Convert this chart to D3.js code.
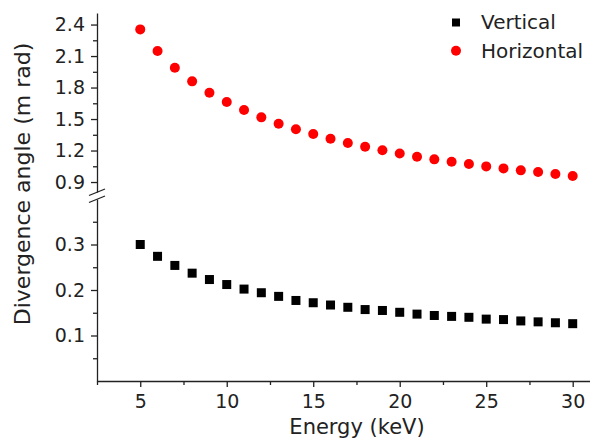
<!DOCTYPE html>
<html>
<head>
<meta charset="utf-8">
<script src="https://cdn.jsdelivr.net/npm/d3@7"></script>
<style>
  body { margin: 0; background: #fff; }
  svg text { font-family: "DejaVu Sans", sans-serif; fill: #222; }
  .axis path, .axis line { stroke: #222; stroke-width: 1.3; }
</style>
</head>
<body>
<div id="chart"></div>
<script>
// energies (keV)
var energy = [5,6,7,8,9,10,11,12,13,14,15,16,17,18,19,20,21,22,23,24,25,26,27,28,29,30];
// divergence angle, m rad
var horizontal = [2.354,2.148,1.989,1.859,1.750,1.662,1.586,1.516,1.455,1.402,1.357,1.312,1.271,
                  1.236,1.202,1.171,1.141,1.116,1.093,1.071,1.049,1.030,1.011,0.995,0.976,0.957];
var vertical = [0.300,0.274,0.254,0.237,0.223,0.212,0.202,0.194,0.186,0.177,0.172,0.167,0.162,
                0.157,0.155,0.151,0.147,0.144,0.142,0.140,0.136,0.135,0.132,0.130,0.128,0.126];
var xTicks = [5,10,15,20,25,30];
var xMinor = [2.5,7.5,12.5,17.5,22.5,27.5];
var yTopTicks = [0.9,1.2,1.5,1.8,2.1,2.4];
var yTopMinor = [1.05,1.35,1.65,1.95,2.25];
var yLowTicks = [0.1,0.2,0.3];
var yLowMinor = [0.05,0.15,0.25,0.35];

var width = 590, height = 440;

var svg = d3.select("#chart").append("svg")
    .attr("width", width)
    .attr("height", height);

var x = d3.scaleLinear().domain([2.5, 31]).range([97, 590]);
// broken y axis: upper and lower part
var yTop = d3.scaleLinear().domain([0.805, 2.51]).range([192, 13]);
var yLow = d3.scaleLinear().domain([0, 0.4]).range([381, 199]);

var fmt = d3.format(".1f");

// x axis
var gx = svg.append("g").attr("class", "axis")
    .attr("transform", "translate(0,381)")
    .call(d3.axisBottom(x).tickValues(xTicks).tickSize(6).tickSizeOuter(0).tickPadding(8));
gx.selectAll("text").style("font-size", "19px");
svg.append("g").attr("class", "axis")
    .attr("transform", "translate(0,381)")
    .call(d3.axisBottom(x).tickValues(xMinor).tickSize(4).tickSizeOuter(0).tickFormat(""))
    .select(".domain").remove();

// upper y axis
var gyt = svg.append("g").attr("class", "axis")
    .attr("transform", "translate(97,0)")
    .call(d3.axisLeft(yTop).tickValues(yTopTicks).tickSize(6).tickSizeOuter(0).tickPadding(6).tickFormat(fmt));
gyt.selectAll("text").style("font-size", "19px");
svg.append("g").attr("class", "axis")
    .attr("transform", "translate(97,0)")
    .call(d3.axisLeft(yTop).tickValues(yTopMinor).tickSize(4).tickFormat(""))
    .select(".domain").remove();

// lower y axis
var gyl = svg.append("g").attr("class", "axis")
    .attr("transform", "translate(97,0)")
    .call(d3.axisLeft(yLow).tickValues(yLowTicks).tickSize(6).tickSizeOuter(0).tickPadding(6).tickFormat(fmt));
gyl.selectAll("text").style("font-size", "19px");
svg.append("g").attr("class", "axis")
    .attr("transform", "translate(97,0)")
    .call(d3.axisLeft(yLow).tickValues(yLowMinor).tickSize(4).tickFormat(""))
    .select(".domain").remove();

// break marks
[[0, 0], [0, 7]].forEach(function (o) {
    svg.append("line")
        .attr("x1", 89).attr("y1", 195.5 + o[1])
        .attr("x2", 105).attr("y2", 189 + o[1])
        .style("stroke", "#222").style("stroke-width", 1.3);
});

// points
svg.append("g").selectAll("circle")
    .data(energy)
    .enter()
    .append("circle")
    .attr("cx", function (d) { return x(d); })
    .attr("cy", function (d, i) { return yTop(horizontal[i]); })
    .attr("r", 5)
    .style("fill", "#ff0000");

svg.append("g").selectAll("rect")
    .data(energy)
    .enter()
    .append("rect")
    .attr("x", function (d) { return x(d) - 4.5; })
    .attr("y", function (d, i) { return yLow(vertical[i]) - 4.5; })
    .attr("width", 9)
    .attr("height", 9)
    .style("fill", "#000");

// axis titles
svg.append("text")
    .attr("x", 357)
    .attr("y", 434)
    .attr("text-anchor", "middle")
    .style("font-size", "21px")
    .text("Energy (keV)");

svg.append("text")
    .attr("transform", "translate(30,184) rotate(-90)")
    .attr("text-anchor", "middle")
    .style("font-size", "22px")
    .text("Divergence angle (m rad)");

// legend
var legend = svg.append("g");
legend.append("rect")
    .attr("x", 452).attr("y", 18.5)
    .attr("width", 8).attr("height", 8)
    .style("fill", "#000");
legend.append("circle")
    .attr("cx", 456).attr("cy", 50.7)
    .attr("r", 5)
    .style("fill", "#ff0000");
legend.append("text")
    .attr("x", 481).attr("y", 28.5)
    .style("font-size", "20px")
    .text("Vertical");
legend.append("text")
    .attr("x", 481).attr("y", 57.5)
    .style("font-size", "20px")
    .text("Horizontal");
</script>
</body>
</html>
